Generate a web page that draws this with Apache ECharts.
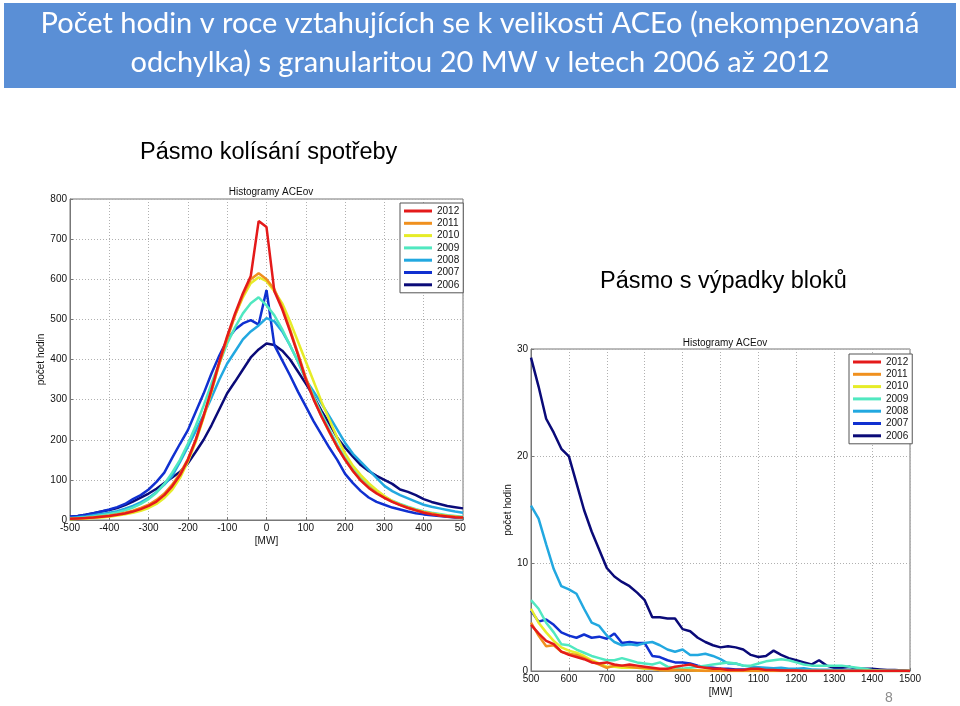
<!DOCTYPE html>
<html><head><meta charset="utf-8">
<script src="https://cdn.jsdelivr.net/npm/echarts@6/dist/echarts.min.js"></script>
<style>html,body{margin:0;padding:0;background:#fff}#c{width:960px;height:706px}</style>
</head><body><div id="c"></div>
<script>
const years = ['2012','2011','2010','2009','2008','2007','2006'];
const colors = ['#e41a1a','#f0901e','#e6ec28','#50e8c0','#22a8e0','#1030d0','#0a0a78'];

const mwLeft = [-500,-480,-460,-440,-420,-400,-380,-360,-340,-320,-300,-280,-260,-240,-220,-200,-180,-160,-140,-120,-100,-80,-60,-40,-20,0,20,40,60,80,100,120,140,160,180,200,220,240,260,280,300,320,340,360,380,400,420,440,460,480,500];
const left2012 = [3,4,5,6,8,10,13,16,21,27,35,46,62,84,112,150,200,260,325,395,458,515,565,608,745,730,570,525,470,412,350,300,258,220,182,150,122,98,80,66,55,45,37,30,24,18,14,11,9,7,6];
const left2011 = [3,4,5,7,9,11,14,18,23,30,38,50,66,88,116,152,200,258,322,390,452,510,560,600,615,600,575,530,475,415,355,302,258,218,182,150,122,100,82,68,56,46,38,31,25,20,16,12,10,8,6];
const left2010 = [2,3,4,5,6,8,11,14,18,23,30,40,55,75,105,145,195,255,320,390,455,510,555,590,605,595,570,540,495,445,395,345,295,250,205,166,135,112,92,75,60,47,38,31,25,20,16,13,10,8,6];
const left2009 = [4,5,7,9,12,15,19,24,31,40,52,68,90,118,150,190,235,285,340,390,440,480,515,540,555,535,510,475,435,395,352,308,265,225,188,155,128,105,87,72,58,48,40,33,27,22,18,15,12,10,8];
const left2008 = [5,7,9,12,15,18,22,28,35,44,55,70,88,110,145,183,222,262,305,350,390,420,450,470,485,503,495,470,435,395,350,320,290,258,225,192,165,145,125,105,85,72,62,54,46,38,33,29,25,21,18];
const left2007 = [8,10,13,17,21,26,32,40,52,62,76,95,118,155,190,224,270,315,365,410,449,475,490,498,487,573,436,398,360,320,283,246,213,180,150,115,92,72,56,45,38,31,26,21,17,14,12,10,8,6,5];
const left2006 = [8,10,13,17,21,25,30,37,46,56,66,78,92,106,120,141,170,200,236,276,316,345,375,405,425,440,436,422,400,370,340,308,272,240,205,180,158,137,122,110,100,90,76,70,62,52,45,40,35,32,29];

const mwRight = [500,520,540,560,580,600,620,640,660,680,700,720,740,760,780,800,820,840,860,880,900,920,940,960,980,1000,1020,1040,1060,1080,1100,1120,1140,1160,1180,1200,1220,1240,1260,1280,1300,1320,1340,1360,1380,1400,1420,1440,1460,1480,1500];
const right2012 = [4.3,3.5,2.8,2.5,1.8,1.5,1.3,1.1,0.8,0.7,0.8,0.6,0.5,0.6,0.5,0.4,0.3,0.2,0.2,0.4,0.5,0.6,0.4,0.3,0.2,0.2,0.1,0.1,0.1,0.2,0.2,0.1,0.1,0.05,0.05,0.05,0,0,0,0,0,0,0,0,0,0,0,0,0,0,0];
const right2011 = [4.5,3.3,2.3,2.4,1.8,1.6,1.5,1.2,0.9,0.6,0.3,0.5,0.5,0.4,0.3,0.3,0.2,0.1,0.05,0.1,0.1,0.05,0.05,0,0,0,0,0,0,0,0,0,0,0,0,0,0,0,0,0,0,0,0,0,0,0,0,0,0,0,0];
const right2010 = [5.8,4.5,3.6,2.8,2.2,1.9,1.7,1.4,1.0,0.7,0.4,0.4,0.3,0.3,0.3,0.2,0.2,0.1,0.1,0.1,0.1,0.1,0.05,0.05,0.05,0,0,0,0,0,0,0,0,0,0,0,0,0,0,0,0,0,0,0,0,0,0,0,0,0,0];
const right2009 = [6.6,5.8,4.5,3.6,2.5,2.4,2.0,1.7,1.4,1.2,1.0,1.0,1.2,1.0,0.8,0.7,0.6,0.8,0.4,0.3,0.2,0.3,0.4,0.5,0.6,0.7,0.8,0.7,0.5,0.5,0.7,0.9,1.0,1.1,1.0,0.8,0.6,0.5,0.5,0.5,0.5,0.5,0.4,0.3,0.2,0.1,0.05,0,0,0,0];
const right2008 = [15.4,14.2,11.8,9.5,7.9,7.6,7.2,5.8,4.5,4.2,3.3,2.7,2.4,2.5,2.4,2.6,2.7,2.4,2.0,1.8,2.0,1.5,1.5,1.6,1.4,1.1,0.7,0.7,0.5,0.4,0.35,0.3,0.25,0.3,0.2,0.2,0.25,0.15,0.1,0.1,0.1,0.1,0.05,0.05,0.05,0.05,0,0,0,0,0];
const right2007 = [5.6,4.6,4.8,4.3,3.6,3.3,3.1,3.4,3.1,3.2,3.0,3.5,2.6,2.7,2.6,2.6,1.4,1.3,1.0,0.8,0.8,0.7,0.5,0.35,0.3,0.2,0.2,0.15,0.15,0.1,0.1,0.1,0.1,0.1,0.1,0.1,0.1,0.1,0.1,0.1,0.1,0.1,0.1,0.1,0.1,0.1,0.05,0.05,0.05,0.05,0];
const right2006 = [29.2,26.5,23.5,22.2,20.7,20.0,17.5,15.0,13.0,11.3,9.6,8.8,8.3,7.9,7.3,6.6,5.0,5.0,4.9,4.9,3.9,3.7,3.1,2.7,2.4,2.2,2.3,2.2,2.0,1.5,1.3,1.4,1.9,1.5,1.2,1.0,0.8,0.6,1.0,0.5,0.3,0.3,0.4,0.2,0.2,0.2,0.15,0.1,0.1,0.05,0];

const leftData = [left2012,left2011,left2010,left2009,left2008,left2007,left2006];
const rightData = [right2012,right2011,right2010,right2009,right2008,right2007,right2006];

const pair = (xs, ys) => xs.map((x, i) => [x, ys[i]]);
const series = [];
years.forEach((y, k) => {
  series.push({name: y, type: 'line', xAxisIndex: 0, yAxisIndex: 0, showSymbol: false, symbol: 'none',
    lineStyle: {width: 2.5, color: colors[k]}, itemStyle: {color: colors[k]}, z: 10 - k,
    data: pair(mwLeft, leftData[k])});
});
years.forEach((y, k) => {
  series.push({name: y, type: 'line', xAxisIndex: 1, yAxisIndex: 1, showSymbol: false, symbol: 'none',
    lineStyle: {width: 2.5, color: colors[k]}, itemStyle: {color: colors[k]}, z: 10 - k,
    data: pair(mwRight, rightData[k])});
});

const axFont = {fontFamily: 'Liberation Sans, Arial, sans-serif', fontSize: 10, color: '#111'};
const split = {show: true, lineStyle: {type: [1, 2], color: '#b0b0b0', width: 1}};
const axLine = {show: true, onZero: false, lineStyle: {color: '#777', width: 1}};
const tick = {show: true, inside: true, length: 3, lineStyle: {color: '#777'}};
const lab = Object.assign({margin: 3, formatter: v => String(v)}, axFont);

const legendBase = {
  orient: 'vertical', icon: 'rect', itemWidth: 28, itemHeight: 3, itemGap: 0.3,
  backgroundColor: '#fff', borderColor: '#555', borderWidth: 1,
  textStyle: {fontFamily: 'Liberation Sans, Arial, sans-serif', fontSize: 10, color: '#111', lineHeight: 12},
  data: years, selectedMode: false
};

const chart = echarts.init(document.getElementById('c'), null, {renderer: 'canvas'});
chart.setOption({
  animation: false,
  backgroundColor: '#fff',
  title: [
    {text: 'Histogramy ACEov', left: 266, top: 182, textAlign: 'center',
     textStyle: {fontFamily: 'Liberation Sans, Arial, sans-serif', fontSize: 10, fontWeight: 'normal', color: '#111'}},
    {text: 'Histogramy ACEov', left: 720, top: 333, textAlign: 'center',
     textStyle: {fontFamily: 'Liberation Sans, Arial, sans-serif', fontSize: 10, fontWeight: 'normal', color: '#111'}}
  ],
  legend: [
    Object.assign({}, legendBase, {left: 400, top: 203, padding: [2, 4, 2, 4]}),
    Object.assign({}, legendBase, {left: 849, top: 354, padding: [2, 4, 2, 4]})
  ],
  grid: [
    {left: 70, top: 199, width: 393, height: 321, show: true, borderColor: '#777', borderWidth: 1, backgroundColor: '#fff'},
    {left: 531, top: 349, width: 379, height: 322, show: true, borderColor: '#777', borderWidth: 1, backgroundColor: '#fff'}
  ],
  xAxis: [
    {type: 'value', gridIndex: 0, min: -500, max: 500, interval: 100, axisLine: axLine, axisTick: tick,
     axisLabel: lab, splitLine: split,
     name: '[MW]', nameLocation: 'middle', nameGap: 16, nameTextStyle: axFont},
    {type: 'value', gridIndex: 1, min: 500, max: 1500, interval: 100, axisLine: axLine, axisTick: tick,
     axisLabel: lab, splitLine: split,
     name: '[MW]', nameLocation: 'middle', nameGap: 16, nameTextStyle: axFont}
  ],
  yAxis: [
    {type: 'value', gridIndex: 0, min: 0, max: 800, interval: 100, axisLine: axLine, axisTick: tick,
     axisLabel: lab, splitLine: split,
     name: 'počet hodin', nameLocation: 'middle', nameGap: 21, nameTextStyle: axFont},
    {type: 'value', gridIndex: 1, min: 0, max: 30, interval: 10, axisLine: axLine, axisTick: tick,
     axisLabel: lab, splitLine: split,
     name: 'počet hodin', nameLocation: 'middle', nameGap: 18, nameTextStyle: axFont}
  ],
  series: series,
  graphic: [
    {type: 'rect', shape: {x: 4, y: 3, width: 952, height: 85}, style: {fill: '#5a8fd6'}, z: 100},
    {type: 'text', left: 'center', top: 9, z: 101,
     style: {text: 'Počet hodin v roce vztahujících se k velikosti ACEo (nekompenzovaná', fill: '#fff',
       font: '29px Lato, "Open Sans", sans-serif', textAlign: 'center'}},
    {type: 'text', left: 'center', top: 48, z: 101,
     style: {text: 'odchylka) s granularitou 20 MW v letech 2006 až 2012', fill: '#fff',
       font: '29px Lato, "Open Sans", sans-serif', textAlign: 'center'}},
    {type: 'text', left: 140, top: 141, z: 101,
     style: {text: 'Pásmo kolísání spotřeby', fill: '#000', font: '23.5px "Liberation Sans", Arial, sans-serif'}},
    {type: 'text', left: 600, top: 270, z: 101,
     style: {text: 'Pásmo s výpadky bloků', fill: '#000', font: '23.5px "Liberation Sans", Arial, sans-serif'}},
    {type: 'rect', shape: {x: 466, y: 515, width: 20, height: 20}, style: {fill: '#fff'}, z: 100},
    {type: 'text', left: 885, top: 691, z: 101,
     style: {text: '8', fill: '#8c8c8c', font: '14px "Liberation Sans", Arial, sans-serif'}}
  ]
});
</script></body></html>
